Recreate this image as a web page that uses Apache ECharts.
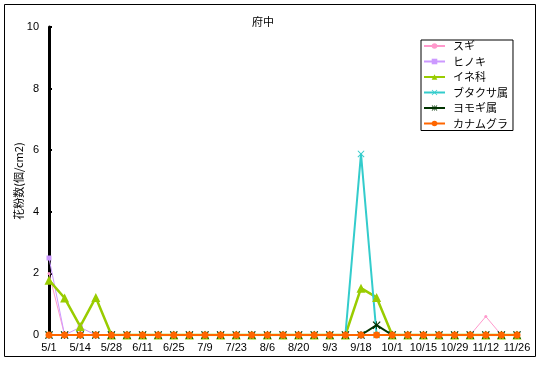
<!DOCTYPE html>
<html><head><meta charset="utf-8">
<script src="https://cdn.jsdelivr.net/npm/echarts@6/dist/echarts.min.js"></script>
<style>html,body{margin:0;padding:0;background:#fff}#c{width:540px;height:365px}</style>
</head><body><div id="c"></div>
<script>
const categories = ['5/1','5/7','5/14','5/21','5/28','6/4','6/11','6/18','6/25','7/2','7/9','7/16','7/23','7/30','8/6','8/13','8/20','8/27','9/3','9/10','9/18','9/24','10/1','10/8','10/15','10/22','10/29','11/5','11/12','11/19','11/26'];
const sugi     = [2.0,0,0,0,0,0,0,0,0,0,0,0,0,0,0,0,0,0,0,0,0,0,0,0,0,0,0,0,0.6,0,0];
const hinoki   = [2.5,0,0.25,0,0,0,0,0,0,0,0,0,0,0,0,0,0,0,0,0,0,0,0,0,0,0,0,0,0,0,0];
const ine      = [1.78,1.2,0.28,1.22,0,0,0,0,0,0,0,0,0,0,0,0,0,0,0,0,1.52,1.22,0,0,0,0,0,0,0,0,0];
const butakusa = [0,0,0,0,0,0,0,0,0,0,0,0,0,0,0,0,0,0,0,0,5.88,0,0,0,0,0,0,0,0,0,0];
const yomogi   = [0,0,0,0,0,0,0,0,0,0,0,0,0,0,0,0,0,0,0,0,0,0.32,0,0,0,0,0,0,0,0,0];
const kanamu   = [0,0,0,0,0,0,0,0,0,0,0,0,0,0,0,0,0,0,0,0,0,0,0,0,0,0,0,0,0,0,0];
const yTicks = [0,2,4,6,8,10];

const jp = '"Noto Sans CJK JP", sans-serif';
const num = '"Liberation Sans", Arial, sans-serif';
const xSym = 'path://M0,1L1,0L5,4L9,0L10,1L6,5L10,9L9,10L5,6L1,10L0,9L4,5Z';
const starSym = 'path://M0,1L1,0L4.5,3.5L4.5,0L5.5,0L5.5,3.5L9,0L10,1L6,5L10,9L9,10L5.5,6.5L5.5,10L4.5,10L4.5,6.5L1,10L0,9L4,5Z';

function mk(name, data, color, width, symbol, size) {
  return { name, type: 'line', data, symbol, symbolSize: size, showSymbol: true,
    lineStyle: { color, width }, itemStyle: { color }, animation: false, z: 3 };
}
const chart = echarts.init(document.getElementById('c'), null, { renderer: 'canvas' });
chart.setOption({
  animation: false,
  backgroundColor: '#fff',
  title: { text: '府中', left: 247, top: 11, textStyle: { fontFamily: jp, fontSize: 11, fontWeight: 'normal', color: '#000' } },
  grid: { left: 49, right: 23, top: 27, bottom: 30, containLabel: false, outerBoundsMode: 'none' },
  legend: {
    orient: 'vertical', left: 421, top: 40,
    backgroundColor: '#fff', borderColor: '#000', borderWidth: 1,
    padding: [0, 5, 1, 2], itemGap: 3.5, itemWidth: 21, itemHeight: 7,
    textStyle: { fontFamily: jp, fontSize: 11, lineHeight: 12, color: '#000', padding: [0, 0, 0, 3] },
    data: ['スギ','ヒノキ','イネ科','ブタクサ属','ヨモギ属','カナムグラ']
  },
  xAxis: {
    type: 'category', data: categories, boundaryGap: false,
    axisLine: { lineStyle: { color: '#000', width: 2 } },
    axisTick: { show: false },
    axisLabel: { interval: 1, color: '#000', fontFamily: num, fontSize: 11, margin: 7, hideOverlap: false }
  },
  yAxis: {
    type: 'value', min: 0, max: 10, interval: 2,
    name: '花粉数(個/cm2)', nameLocation: 'middle', nameGap: 25, nameRotate: 90, nameMoveOverlap: false,
    nameTextStyle: { fontFamily: jp, fontSize: 11, color: '#000' },
    axisLine: { show: true, lineStyle: { color: '#000', width: 3 } },
    axisTick: { show: true, inside: true, length: 3, lineStyle: { color: '#000', width: 2 } },
    axisLabel: { color: '#000', fontFamily: num, fontSize: 11, margin: 10,
      formatter: v => yTicks.includes(v) ? String(v) : '' },
    splitLine: { show: false }
  },
  graphic: [{ type: 'rect', shape: { x: 4.5, y: 4.5, width: 531, height: 352 }, style: { fill: 'none', stroke: '#000', lineWidth: 1 }, z: 100, silent: true }],
  series: [
    mk('スギ', sugi, '#FF99CC', 1, 'circle', 3),
    mk('ヒノキ', hinoki, '#CC99FF', 1, 'rect', 5),
    mk('イネ科', ine, '#99CC00', 2.5, 'triangle', 9),
    mk('ブタクサ属', butakusa, '#33CCCC', 2, xSym, 7),
    mk('ヨモギ属', yomogi, '#003300', 2, starSym, 8),
    mk('カナムグラ', kanamu, '#FF6600', 2, 'circle', 7)
  ]
});
</script></body></html>
